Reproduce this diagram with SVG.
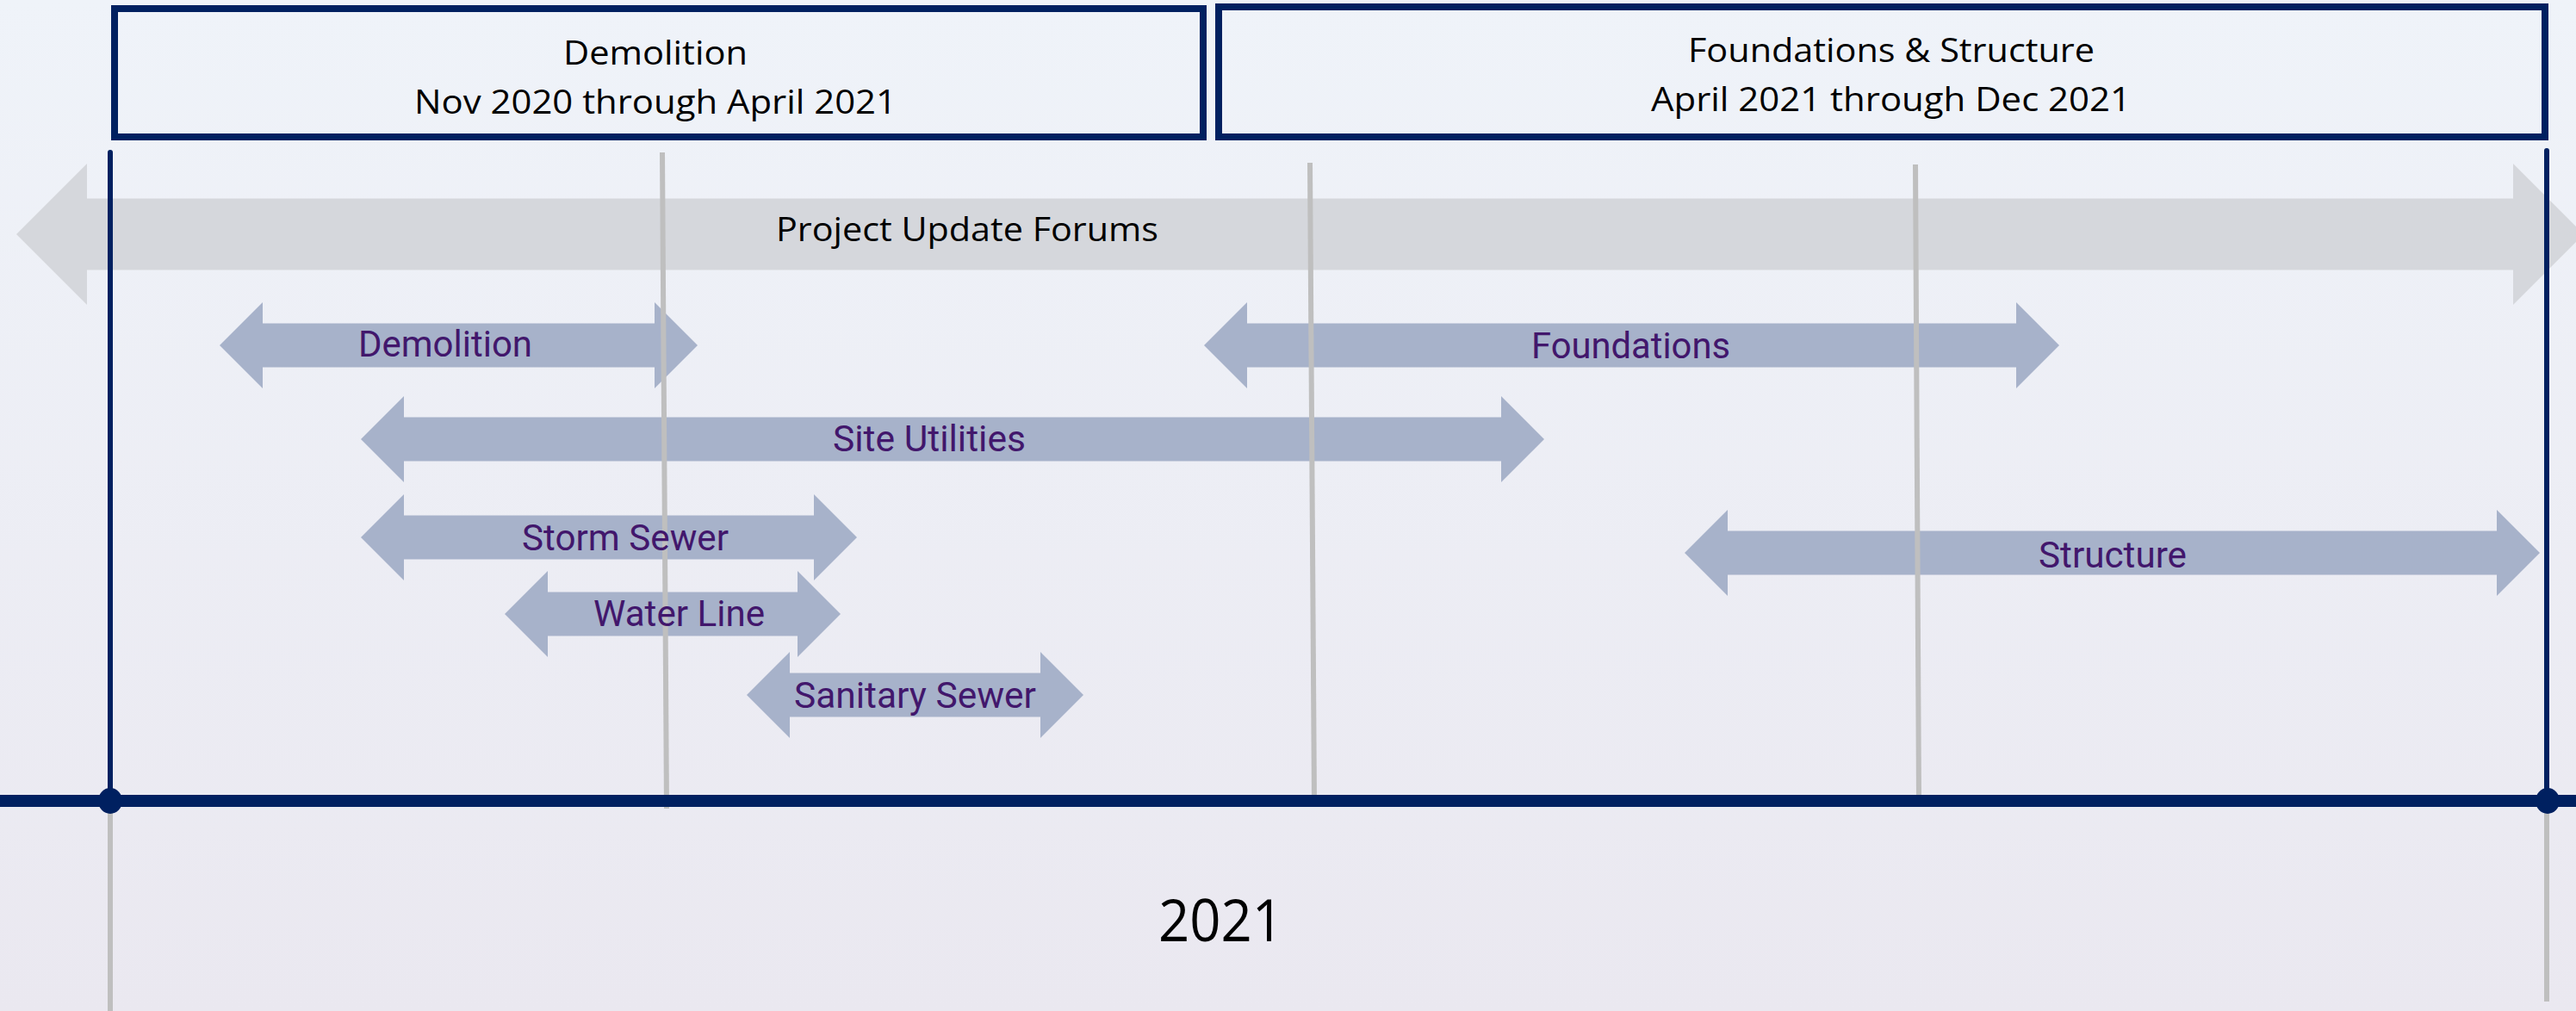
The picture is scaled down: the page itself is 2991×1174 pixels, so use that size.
<svg xmlns="http://www.w3.org/2000/svg" width="2991" height="1174" viewBox="0 0 2991 1174">
  <defs>
    <linearGradient id="bg" x1="0" y1="0" x2="0" y2="1">
      <stop offset="0" stop-color="#EFF3F9"/>
      <stop offset="1" stop-color="#EAE8F0"/>
    </linearGradient>
  </defs>
  <style>
    .box { fill: none; stroke: #002060; stroke-width: 8; }
    .boxtxt { font-family: "Open Sans", "Liberation Sans", sans-serif; font-size: 39px; fill: #000000; }
    .bar { fill: #A7B2CA; }
    .forum { fill: #D5D7DC; }
    .lbl { font-family: Roboto, "Liberation Sans", sans-serif; font-size: 42px; fill: #42176C; }
    .grid { stroke: #BFBFBF; stroke-width: 6; fill: none; }
    .edge { stroke: #002060; stroke-width: 6; stroke-linecap: round; fill: none; }
  </style>
  <rect x="0" y="0" width="2991" height="1174" fill="url(#bg)"/>

  <g id="phase-demolition">
    <rect class="box" x="133" y="10" width="1264" height="149"/>
    <text class="boxtxt" x="654" y="75" textLength="214" lengthAdjust="spacingAndGlyphs">Demolition</text>
    <text class="boxtxt" x="481" y="132" textLength="560" lengthAdjust="spacingAndGlyphs">Nov 2020 through April 2021</text>
  </g>
  <g id="phase-foundations">
    <rect class="box" x="1415" y="8" width="1540" height="151"/>
    <text class="boxtxt" x="1960" y="72" textLength="472" lengthAdjust="spacingAndGlyphs">Foundations &amp; Structure</text>
    <text class="boxtxt" x="1917" y="129" textLength="557" lengthAdjust="spacingAndGlyphs">April 2021 through Dec 2021</text>
  </g>

  <g id="forums">
    <path class="forum" d="M19,272 L101,190 L101,230.5 L2918,230.5 L2918,190 L3000,272 L2918,354 L2918,313.5 L101,313.5 L101,354 Z"/>
    <text class="boxtxt" x="901" y="280" font-size="43" textLength="444" lengthAdjust="spacingAndGlyphs">Project Update Forums</text>
  </g>

  <g id="bar-demolition">
    <path class="bar" d="M255,401 L305,351 L305,375.5 L760,375.5 L760,351 L810,401 L760,451 L760,426.5 L305,426.5 L305,451 Z"/>
  </g>
  <g id="bar-foundations">
    <path class="bar" d="M1398,401 L1448,351 L1448,375.5 L2341,375.5 L2341,351 L2391,401 L2341,451 L2341,426.5 L1448,426.5 L1448,451 Z"/>
  </g>
  <g id="bar-site-utilities">
    <path class="bar" d="M419,510 L469,460 L469,484.5 L1743,484.5 L1743,460 L1793,510 L1743,560 L1743,535.5 L469,535.5 L469,560 Z" fill="#ACB7CE"/>
  </g>
  <g id="bar-storm-sewer">
    <path class="bar" d="M419,624 L469,574 L469,598.5 L945,598.5 L945,574 L995,624 L945,674 L945,649.5 L469,649.5 L469,674 Z" fill="#ABB6CD"/>
  </g>
  <g id="bar-water-line">
    <path class="bar" d="M586,713 L636,663 L636,687.5 L926,687.5 L926,663 L976,713 L926,763 L926,738.5 L636,738.5 L636,763 Z" fill="#ABB6CD"/>
  </g>
  <g id="bar-sanitary-sewer">
    <path class="bar" d="M867,807 L917,757 L917,781.5 L1208,781.5 L1208,757 L1258,807 L1208,857 L1208,832.5 L917,832.5 L917,857 Z" fill="#ABB6CD"/>
  </g>
  <g id="bar-structure">
    <path class="bar" d="M1956,642 L2006,592 L2006,616.5 L2899,616.5 L2899,592 L2949,642 L2899,692 L2899,667.5 L2006,667.5 L2006,692 Z"/>
  </g>

  <g id="connectors">
    <line class="grid" x1="769" y1="177" x2="774" y2="939"/>
    <line class="grid" x1="1521" y1="189" x2="1526" y2="930"/>
    <line class="grid" x1="2224" y1="191" x2="2228" y2="930"/>
    <line class="grid" x1="128" y1="937" x2="128" y2="1174" stroke-width="7"/>
    <line class="grid" x1="2957" y1="937" x2="2957" y2="1163" stroke-width="7"/>
    <line class="edge" x1="128" y1="177" x2="128" y2="930"/>
    <line class="edge" x1="2957" y1="175" x2="2957" y2="930"/>
    <rect x="0" y="923" width="2991" height="14" fill="#002060"/>
    <ellipse cx="128" cy="930" rx="14" ry="15" fill="#002060"/>
    <ellipse cx="2958" cy="930" rx="14" ry="15" fill="#002060"/>
  </g>

  <g id="labels">
    <text class="lbl" x="416" y="414" textLength="202" lengthAdjust="spacingAndGlyphs">Demolition</text>
    <text class="lbl" x="1778" y="416" textLength="231" lengthAdjust="spacingAndGlyphs">Foundations</text>
    <text class="lbl" x="967" y="524" textLength="224" lengthAdjust="spacingAndGlyphs">Site Utilities</text>
    <text class="lbl" x="606" y="639" textLength="240" lengthAdjust="spacingAndGlyphs">Storm Sewer</text>
    <text class="lbl" x="689" y="727" textLength="199" lengthAdjust="spacingAndGlyphs">Water Line</text>
    <text class="lbl" x="922" y="822" textLength="281" lengthAdjust="spacingAndGlyphs">Sanitary Sewer</text>
    <text class="lbl" x="2367" y="659" textLength="172" lengthAdjust="spacingAndGlyphs">Structure</text>
  </g>

  <g id="year">
    <text x="1345" y="1093" font-family="'Open Sans', 'Liberation Sans', sans-serif" font-size="67" fill="#000000" textLength="145" lengthAdjust="spacingAndGlyphs">2021</text>
  </g>
</svg>
